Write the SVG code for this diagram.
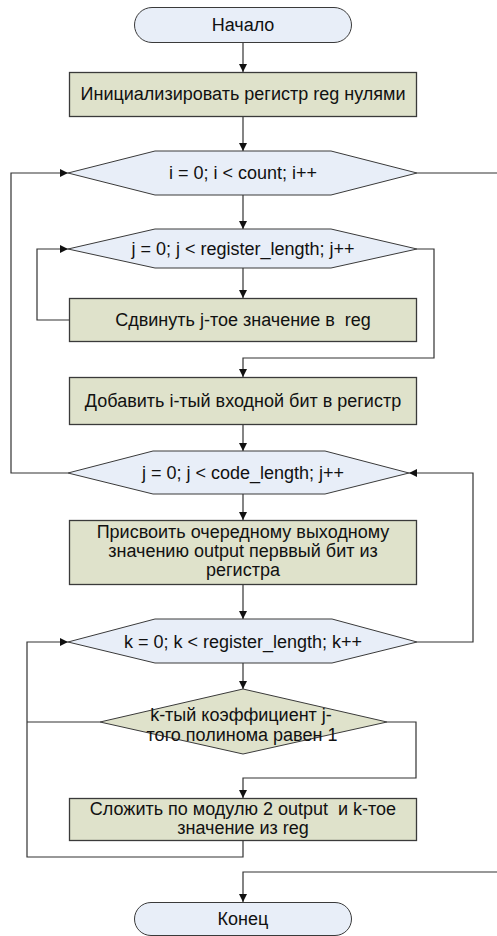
<svg xmlns="http://www.w3.org/2000/svg" width="497" height="936" viewBox="0 0 497 936">
<style>
.term{fill:#e8eef8;stroke:#3a3a3a;stroke-width:1}
.hex{fill:#e8eef8;stroke:#3a3a3a;stroke-width:1}
.box{fill:#dfe2cb;stroke:#3a3a3a;stroke-width:1.3}
.dia{fill:#dfe2cb;stroke:#3a3a3a;stroke-width:1}
.t{font-family:"Liberation Sans",Arial,sans-serif;font-size:18px;fill:#111;text-anchor:middle}
.c{fill:none;stroke:#333;stroke-width:1.2}
</style>
<defs>
<marker id="ah" viewBox="0 0 10 10" refX="10" refY="5" markerWidth="8" markerHeight="8" markerUnits="userSpaceOnUse" orient="auto">
<path d="M0,0 L10,5 L0,10 z" fill="#111"/>
</marker>
</defs>
<rect width="497" height="936" fill="#fff"/>
<g id="connectors">
<path class="c" d="M243,43 V72" marker-end="url(#ah)"/>
<path class="c" d="M243,116 V151" marker-end="url(#ah)"/>
<path class="c" d="M243,195 V229" marker-end="url(#ah)"/>
<path class="c" d="M243,268 V298" marker-end="url(#ah)"/>
<path class="c" d="M243,425 V451" marker-end="url(#ah)"/>
<path class="c" d="M243,494 V520" marker-end="url(#ah)"/>
<path class="c" d="M243,585 V619" marker-end="url(#ah)"/>
<path class="c" d="M243,663 V689" marker-end="url(#ah)"/>
<path class="c" d="M68,473 H11 V173 H68" marker-end="url(#ah)"/>
<path class="c" d="M417,173 H497"/>
<path class="c" d="M497,872 H243 V902" marker-end="url(#ah)"/>
<path class="c" d="M69,320 H37 V249 H68" marker-end="url(#ah)"/>
<path class="c" d="M417,249 H434 V358 H243 V377" marker-end="url(#ah)"/>
<path class="c" d="M417,642 H473 V473 H409" marker-end="url(#ah)"/>
<path class="c" d="M243,841 V857 H27 V642 H68" marker-end="url(#ah)"/>
<path class="c" d="M100,722 H27"/>
<path class="c" d="M387,722 H416 V778 H243 V798" marker-end="url(#ah)"/>
</g>
<g id="start">
<rect class="term" x="134.5" y="7.5" width="217" height="35" rx="17.5"/>
<text class="t" x="243" y="31">Начало</text>
</g>
<g id="init">
<rect class="box" x="69.5" y="72.5" width="347" height="44"/>
<text class="t" x="243" y="100">Инициализировать регистр reg нулями</text>
</g>
<g id="loop_i">
<polygon class="hex" points="68,173 155,151 331,151 417,173 331,195 155,195"/>
<text class="t" x="243" y="179">i = 0; i &lt; count; i++</text>
</g>
<g id="loop_j1">
<polygon class="hex" points="68,249 155,229 331,229 417,249 331,268 155,268"/>
<text class="t" x="243" y="255">j = 0; j &lt; register_length; j++</text>
</g>
<g id="shift">
<rect class="box" x="69.5" y="298.5" width="347" height="43"/>
<text class="t" x="243" y="326" xml:space="preserve">Сдвинуть j-тое значение в  reg</text>
</g>
<g id="add">
<rect class="box" x="69.5" y="377.5" width="347" height="47"/>
<text class="t" x="243" y="407">Добавить i-тый входной бит в регистр</text>
</g>
<g id="loop_j2">
<polygon class="hex" points="68,473 153,451 325,451 409,473 325,494 153,494"/>
<text class="t" x="243" y="479">j = 0; j &lt; code_length; j++</text>
</g>
<g id="assign">
<rect class="box" x="69.5" y="520.5" width="347" height="64"/>
<text class="t" x="243" y="538">Присвоить очередному выходному</text>
<text class="t" x="243" y="557">значению output перввый бит из</text>
<text class="t" x="243" y="576">регистра</text>
</g>
<g id="loop_k">
<polygon class="hex" points="68,642 155,619 332,619 417,642 332,663 155,663"/>
<text class="t" x="243" y="648">k = 0; k &lt; register_length; k++</text>
</g>
<g id="cond">
<polygon class="dia" points="243,689 387,722 243,754 100,722"/>
<text class="t" x="241" y="721">k-тый коэффициент j-</text>
<text class="t" x="242" y="741">того полинома равен 1</text>
</g>
<g id="xor">
<rect class="box" x="69.5" y="798.5" width="347" height="42"/>
<text class="t" x="243" y="815" xml:space="preserve">Сложить по модулю 2 output  и k-тое</text>
<text class="t" x="243" y="834">значение из reg</text>
</g>
<g id="end">
<rect class="term" x="134.5" y="902.5" width="217" height="33" rx="16.5"/>
<text class="t" x="243" y="925">Конец</text>
</g>
</svg>
